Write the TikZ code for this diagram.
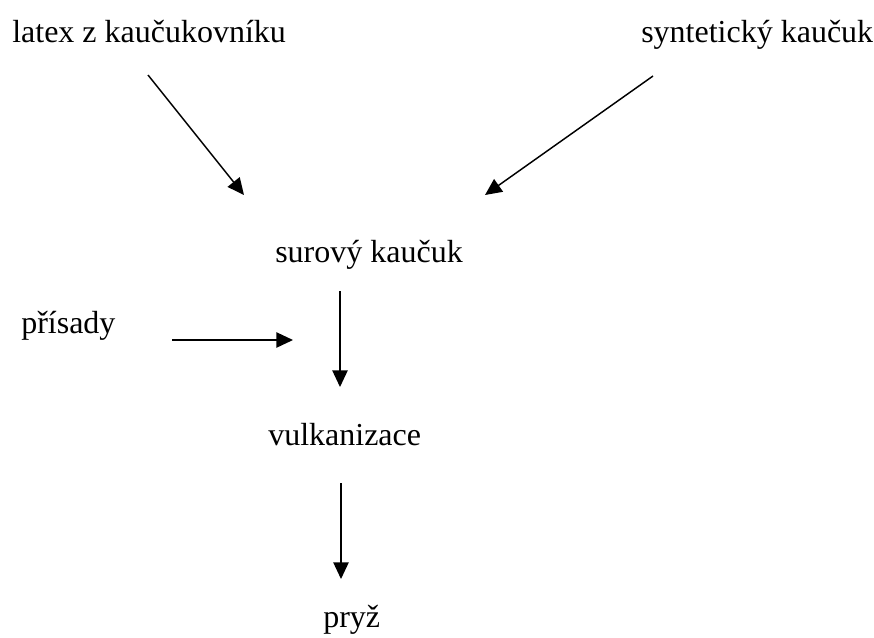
\documentclass[tikz,border=0pt]{standalone}
\usepackage{fontspec}
\setmainfont{Liberation Serif}
\usetikzlibrary{arrows.meta}
\begin{document}
\begin{tikzpicture}[x=0.75pt,y=-0.75pt,
  lbl/.style={anchor=base west,inner sep=0pt,font=\fontsize{24}{28}\selectfont},
  arr/.style={line width=1.1pt,-{Triangle[length=12.5pt,width=11.5pt]}}]
\useasboundingbox (0,0) rectangle (874,637);
\node[lbl] (latex) at (12,42) {latex z kaučukovníku};
\node[lbl] (synt) at (641,42) {syntetický kaučuk};
\node[lbl] (surovy) at (275,262) {surový kaučuk};
\node[lbl] (prisady) at (21,333) {přísady};
\node[lbl] (vulk) at (268,445) {vulkanizace};
\node[lbl] (pryz) at (323,627) {pryž};
\coordinate (a1s) at (148,75);
\coordinate (a1e) at (244,195);
\coordinate (a2s) at (653,76);
\coordinate (a2e) at (485,195);
\coordinate (a3s) at (172,340);
\coordinate (a3e) at (293,340);
\coordinate (a4s) at (340,291);
\coordinate (a4e) at (340,387);
\coordinate (a5s) at (341,483);
\coordinate (a5e) at (341,579);
\draw[arr] (a1s) -- (a1e);
\draw[arr] (a2s) -- (a2e);
\draw[arr] (a3s) -- (a3e);
\draw[arr] (a4s) -- (a4e);
\draw[arr] (a5s) -- (a5e);
\end{tikzpicture}
\end{document}
